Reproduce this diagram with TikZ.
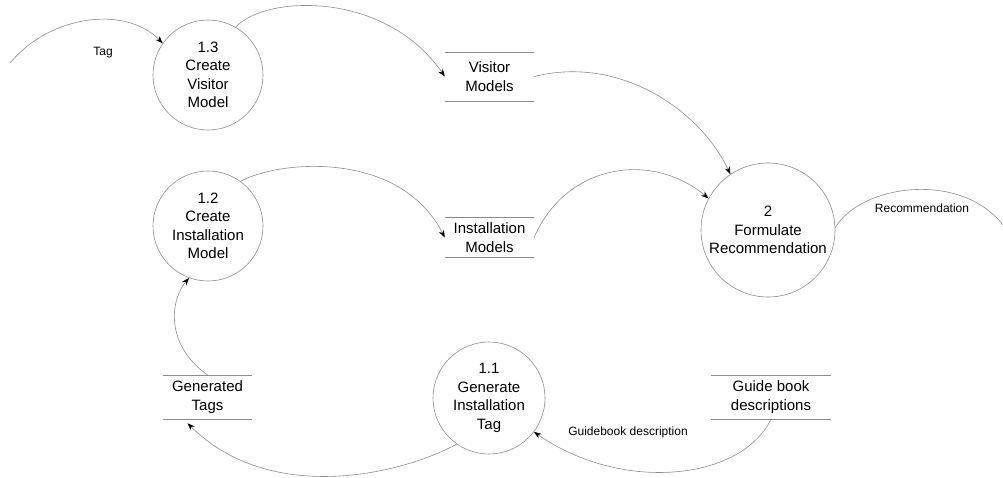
\documentclass[tikz,border=0pt]{standalone}
\usepackage{fontspec}
\setmainfont{Liberation Sans}
\usetikzlibrary{arrows.meta,calc}
\begin{document}
\begin{tikzpicture}[x=1pt,y=-1pt,
  proc/.style={circle,draw=gray!90,line width=0.6pt,inner sep=0pt,align=center,
    font=\fontsize{15}{18.5}\selectfont},
  store/.style={rectangle,inner sep=0pt,align=center,font=\fontsize{15}{18.5}\selectfont},
  storeline/.style={draw=gray!90,line width=0.6pt},
  flow/.style={draw=gray!90,line width=0.6pt,-{Stealth[length=7.5pt,width=5.5pt,black]}},
  plain/.style={draw=gray!90,line width=0.6pt},
  lbl/.style={font=\fontsize{12}{14}\selectfont}]
\useasboundingbox (0,0) rectangle (1003,477);
\clip (0,0) rectangle (1003,477);

% processes
\node[proc,minimum size=110pt] (c13) at (208,75) {1.3\\Create\\Visitor\\Model};
\node[proc,minimum size=110pt] (c12) at (208,226) {1.2\\Create\\Installation\\Model};
\node[proc,minimum size=112pt] (c11) at (489,398) {1.1\\Generate\\Installation\\Tag};
\node[proc,minimum size=134pt] (c2) at (768,230) {2\\Formulate\\Recommendation};

% data stores
\node[store,minimum width=89pt,minimum height=49pt] (vm) at (489.5,76.5) {Visitor\\Models};
\node[store,minimum width=89pt,minimum height=40pt] (im) at (489.5,237.5) {Installation\\Models};
\node[store,minimum width=89pt,minimum height=44pt] (gt) at (207.5,397) {Generated\\Tags};
\node[store,minimum width=120pt,minimum height=44pt] (gd) at (771,397) {Guide book\\descriptions};
\foreach \s in {vm,im,gt,gd}{
  \draw[storeline] (\s.north west) -- (\s.north east) (\s.south west) -- (\s.south east);
}

% free ends
\coordinate (tagsrc) at (10,63);
\coordinate (recdst) at (1003,225);

% flows
\draw[flow] (tagsrc) .. controls (50,15) and (125,5) .. (c13.145);
\node[lbl] (ltag) at (103,53) {Tag};

\draw[flow] (c13.60) .. controls (265,-5) and (385,-10) .. (vm.west);
\draw[flow] (vm.east) .. controls (620,55) and (700,110) .. (c2.124);
\draw[flow] (c12.54) .. controls (280,160) and (400,150) .. (im.west);
\draw[flow] (im.east) .. controls (565,165) and (650,150) .. (c2.152);
\draw[plain] (c2.2) .. controls (860,185) and (960,170) .. (recdst);
\node[lbl] (lrec) at (922,208) {Recommendation};

\draw[flow] (gt.north) .. controls (165,345) and (170,300) .. (c12.250);
\draw[flow] (c11.235) .. controls (400,475) and (270,505) .. ([xshift=-20pt,yshift=-4pt]gt.south);
\draw[flow] (gd.south) .. controls (740,482) and (620,492) .. (c11.323);
\node[lbl] (lgd) at (628,432) {Guidebook description};
\end{tikzpicture}
\end{document}
